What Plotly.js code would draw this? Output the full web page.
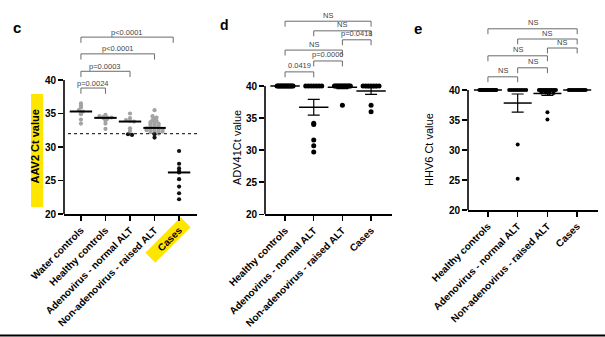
<!DOCTYPE html>
<html><head><meta charset="utf-8">
<script src="https://cdn.plot.ly/plotly-3.0.1.min.js"></script>
<style>html,body{margin:0;padding:0;background:#fff;}#chart{width:605px;height:337px;}</style>
</head><body><div id="chart"></div>
<script>
// ---------- DATA ----------
const catsC = ['Water controls','Healthy controls','Adenovirus - normal ALT','Non-adenovirus - raised ALT','Cases'];
const catsDE = ['Healthy controls','Adenovirus - normal ALT','Non-adenovirus - raised ALT','Cases'];

// panel c: AAV2 Ct values
const aav2Water = [36.5, 36.2, 35.9, 35.5, 35.3, 35.0, 34.9, 34.1, 33.5];
const aav2Healthy = [34.8, 34.6, 34.5, 34.4, 34.4, 34.3, 34.2, 33.9, 33.5, 32.7];
const aav2AdenoNormal = [35.0, 34.3, 34.0, 33.9, 33.8, 32.8, 32.4, 31.9, 31.8];
const aav2NonAdeno = [35.5, 34.6, 34.4, 34.2, 34.0, 33.9, 33.7, 33.6, 33.5, 33.4, 33.3, 33.2, 33.1, 33.0, 32.9, 32.8, 32.8, 32.7, 32.7, 32.6, 32.5, 32.5, 32.4, 32.3, 32.3, 32.2, 32.1, 32.0, 31.9, 31.4];
const aav2Cases = [29.4, 27.5, 26.8, 26.4, 26.2, 25.2, 24.1, 23.1, 22.2];
const aav2Threshold = 32;
const aav2Brackets = [
  {a:0, b:1, y:38.8, text:'p=0.0024'},
  {a:0, b:2, y:41.3, text:'p=0.0003'},
  {a:0, b:3, y:43.9, text:'p<0.0001'},
  {a:0, b:3.76, y:46.4, text:'p<0.0001'}
];

// panel d: ADV41 Ct values
const adv41Healthy = [40,40,40,40,40,40,40,40,40,40,40,40,40,40,40,40];
const adv41AdenoNormal = [40,40,40,40,40,40,40, 34.2, 34.0, 31.6, 30.7, 29.7];
const adv41NonAdeno = [40,40,40,40,40,40,40,40,40,40,40,40,40,40, 37.0];
const adv41Cases = [40,40,40,40,40,40,40, 37.0, 36.0];
const adv41Brackets = [
  {a:0, b:1, y:42.2, text:'0.0419'},
  {a:1, b:2, y:43.9, text:'p=0.0006'},
  {a:0, b:2, y:45.6, text:'NS'},
  {a:2, b:3, y:47.2, text:'p=0.0418'},
  {a:1, b:3, y:48.6, text:'NS'},
  {a:0, b:3, y:50.1, text:'NS'}
];

// panel e: HHV6 Ct values
const hhv6Healthy = [40,40,40,40,40,40,40,40,40,40,40,40,40,40,40,40];
const hhv6AdenoNormal = [40,40,40,40,40,40,40,40,40, 30.9, 25.2];
const hhv6NonAdeno = [40,40,40,40,40,40,40,40,40,40,40,40, 39.6, 39.6, 39.5, 39.5, 36.3, 35.1];
const hhv6Cases = [40,40,40,40,40,40,40,40,40,40,40,40];
const hhv6Brackets = [
  {a:0, b:1, y:42.2, text:'NS'},
  {a:1, b:2, y:43.7, text:'NS'},
  {a:0, b:2, y:45.7, text:'NS'},
  {a:2, b:3, y:47.0, text:'NS'},
  {a:1, b:3, y:48.5, text:'NS'},
  {a:0, b:3, y:50.2, text:'NS'}
];

const yTicks = [20, 25, 30, 35, 40];

// ---------- HELPERS ----------
const W = 605, H = 337;
const px = x => x / W;
const py = y => 1 - y / H;
const FONT = 'Liberation Sans, Arial, sans-serif';

function median(a){const s=[...a].sort((p,q)=>p-q);const n=s.length;return n%2?s[(n-1)/2]:(s[n/2-1]+s[n/2])/2;}
function mean(a){return a.reduce((p,q)=>p+q,0)/a.length;}
function sem(a){const m=mean(a);const v=a.reduce((p,q)=>p+(q-m)*(q-m),0)/(a.length-1);return Math.sqrt(v/a.length);}

function swarm(vals, bin, step, maxHalf){
  const bins = {};
  vals.forEach((v,i)=>{const b=Math.round(v/bin);(bins[b]=bins[b]||[]).push(i);});
  const off = new Array(vals.length).fill(0);
  Object.values(bins).forEach(idx=>{
    const n = idx.length; let s = step;
    if (n>1 && (n-1)*s/2 > maxHalf) s = 2*maxHalf/(n-1);
    idx.forEach((i,k)=>{off[i]=(k-(n-1)/2)*s;});
  });
  return off;
}

function pointTrace(vals, ci, xa, ya, pxPerCat, o){
  const off = swarm(vals, o.bin, o.step, o.maxHalf);
  return {type:'scatter', mode:'markers', xaxis:xa, yaxis:ya,
    x: vals.map((v,i)=>ci + off[i]/pxPerCat), y: vals,
    marker:{size:o.size, color: vals.map(o.color), line:{width:0}},
    hoverinfo:'skip', showlegend:false};
}

const traces = [];
// panel c
const groupsC = [aav2Water, aav2Healthy, aav2AdenoNormal, aav2NonAdeno, aav2Cases];
const colC = v => v < aav2Threshold ? '#111111' : '#a3a3a3';
groupsC.forEach((g,i)=>traces.push(pointTrace(g, i, 'x', 'y', 24.5, {bin:0.3, step:4, maxHalf:9, size:4.2, color:colC})));
traces.push({type:'scatter', mode:'markers', xaxis:'x', yaxis:'y',
  x: groupsC.map((g,i)=>i), y: groupsC.map(median),
  marker:{symbol:'line-ew', size:16, color:'black', line:{width:2, color:'black'}}, hoverinfo:'skip', showlegend:false});

// panel d
const groupsD = [adv41Healthy, adv41AdenoNormal, adv41NonAdeno, adv41Cases];
groupsD.forEach((g,i)=>traces.push(pointTrace(g, i, 'x2', 'y2', 28.7, {bin:0.3, step:4, maxHalf:8, size:5, color:()=> '#000000'})));
traces.push({type:'scatter', mode:'markers', xaxis:'x2', yaxis:'y2',
  x: groupsD.map((g,i)=>i), y: groupsD.map(mean),
  error_y:{type:'data', array: groupsD.map(sem), visible:true, color:'black', thickness:1.2, width:6},
  marker:{symbol:'line-ew', size:21, color:'black', line:{width:1.5, color:'black'}}, hoverinfo:'skip', showlegend:false});

// panel e
const groupsE = [hhv6Healthy, hhv6AdenoNormal, hhv6NonAdeno, hhv6Cases];
groupsE.forEach((g,i)=>traces.push(pointTrace(g, i, 'x3', 'y3', 29.7, {bin:0.3, step:4, maxHalf:8.5, size:4, color:()=> '#000000'})));
traces.push({type:'scatter', mode:'markers', xaxis:'x3', yaxis:'y3',
  x: groupsE.map((g,i)=>i), y: groupsE.map(mean),
  error_y:{type:'data', array: groupsE.map(sem), visible:true, color:'black', thickness:1.2, width:6},
  marker:{symbol:'line-ew', size:20, color:'black', line:{width:1.5, color:'black'}}, hoverinfo:'skip', showlegend:false});

// ---------- LAYOUT ----------
function xAxis(domain, range, cats){
  return {domain, range, tickmode:'array', tickvals: cats.map((c,i)=>i), ticktext: cats,
    tickangle:-45, ticks:'outside', ticklen:5, tickwidth:1.5, tickcolor:'black',
    showline:true, linewidth:1.6, linecolor:'black', showgrid:false, zeroline:false,
    tickfont:{family:FONT, size:10, color:'black', weight:'bold'}, fixedrange:true};
}
function yAxis(domain, range, anchor){
  return {domain, range, anchor, tickmode:'array', tickvals:yTicks, ticktext:yTicks.map(String),
    ticks:'outside', ticklen:5, tickwidth:1.5, tickcolor:'black', showline:false, showgrid:false, zeroline:false,
    tickfont:{family:FONT, size:10, color:'black', weight:'bold'}, fixedrange:true};
}

const shapes = [], annotations = [];
function axisLine(xr, yr){
  shapes.push({type:'line', xref:xr+' domain', yref:yr, x0:0, x1:0, y0:20, y1:40, line:{color:'black', width:1.6}});
}
axisLine('x','y'); axisLine('x2','y2'); axisLine('x3','y3');

function brackets(list, xr, yr, drop, shift){
  list.forEach(b=>{
    shapes.push({type:'path', xref:xr, yref:yr,
      path:`M ${b.a} ${b.y-drop} L ${b.a} ${b.y} L ${b.b} ${b.y} L ${b.b} ${b.y-drop}`,
      line:{color:'#6a6a6a', width:1}});
    annotations.push({xref:xr, yref:yr, x:(b.a+b.b)/2, y:b.y, text:b.text, showarrow:false,
      yanchor:'middle', yshift:shift, font:{family:FONT, size:7.5, color:'#444444'}});
  });
}
brackets(aav2Brackets, 'x', 'y', 0.85, 5);
brackets(adv41Brackets, 'x2', 'y2', 0.85, 6);
brackets(hhv6Brackets, 'x3', 'y3', 0.9, 6);

// threshold dotted line (panel c)
shapes.push({type:'line', xref:'x domain', yref:'y', x0:0.03, x1:1, y0:aav2Threshold, y1:aav2Threshold,
  line:{color:'#333333', width:1.4, dash:'dot'}});

// yellow highlights (panel c)
shapes.push({type:'rect', xref:'paper', yref:'paper', x0:px(31), x1:px(43), y0:py(207), y1:py(94),
  fillcolor:'#ffe600', line:{width:0}, layer:'below'});
(function(){
  const cx=168, cy=240, L=50, T=14, u=[Math.SQRT1_2,-Math.SQRT1_2], v=[Math.SQRT1_2,Math.SQRT1_2];
  const pts=[[1,1],[1,-1],[-1,-1],[-1,1]].map(([a,b])=>[cx+a*u[0]*L/2+b*v[0]*T/2, cy+a*u[1]*L/2+b*v[1]*T/2]);
  shapes.push({type:'path', xref:'paper', yref:'paper', layer:'below', fillcolor:'#ffe600', line:{width:0},
    path:'M '+pts.map(p=>px(p[0])+' '+py(p[1])).join(' L ')+' Z'});
})();

// bottom rule
shapes.push({type:'line', xref:'paper', yref:'paper', x0:0, x1:1, y0:py(335.5), y1:py(335.5), line:{color:'black', width:2}});

// axis titles
annotations.push({xref:'paper', yref:'paper', x:px(34.5), y:py(147), xanchor:'center', yanchor:'middle',
  text:'AAV2 Ct value', textangle:-90, showarrow:false, borderpad:0,
  font:{family:FONT, size:11, color:'black', weight:'bold'}});
annotations.push({xref:'paper', yref:'paper', x:px(237), y:py(148), text:'ADV41Ct value', textangle:-90, showarrow:false,
  font:{family:FONT, size:11, color:'black'}});
annotations.push({xref:'paper', yref:'paper', x:px(437), y:py(149), text:'HHV6 Ct value', textangle:-90, showarrow:false,
  font:{family:FONT, size:11, color:'black'}});
// panel letters
[['c',11,17,15],['d',224,15,14],['e',424,18,15]].forEach(([t,x,y,s])=>annotations.push({xref:'paper', yref:'paper',
  x:px(x), y:py(y), text:t, showarrow:false, font:{family:FONT, size:s, color:'black', weight:'bold'}}));

const layout = {
  width:W, height:H, margin:{l:0, r:0, t:0, b:0}, paper_bgcolor:'white', plot_bgcolor:'rgba(0,0,0,0)',
  showlegend:false, font:{family:FONT},
  xaxis: xAxis([px(64), px(197)], [-0.69, 4.73], catsC),
  yaxis: yAxis([py(214), 1], [20, 20 + 214/6.7], 'x'),
  xaxis2: Object.assign(xAxis([px(265), px(392)], [-0.70, 3.73], catsDE), {anchor:'y2'}),
  yaxis2: yAxis([py(214.3), 1], [20, 20 + 214.3/6.415], 'x2'),
  xaxis3: Object.assign(xAxis([px(468), px(598)], [-0.67, 3.70], catsDE), {anchor:'y3'}),
  yaxis3: yAxis([py(210), 1], [20, 55], 'x3'),
  shapes, annotations
};
layout.xaxis.anchor = 'y';

Plotly.newPlot('chart', traces, layout, {staticPlot:true, displayModeBar:false});
</script></body></html>
